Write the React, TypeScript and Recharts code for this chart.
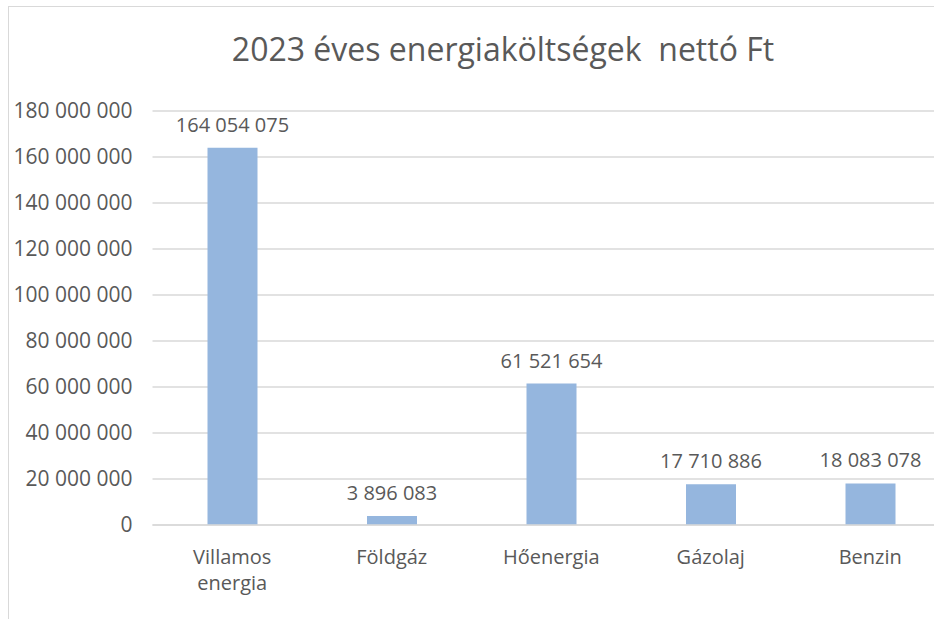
import React from "react";
import { BarChart, Bar, XAxis, YAxis, CartesianGrid, LabelList } from "recharts";

const categories = ["Villamos energia", "Földgáz", "Hőenergia", "Gázolaj", "Benzin"];
const costs = [164054075, 3896083, 61521654, 17710886, 18083078];
const yTicks = [0, 20000000, 40000000, 60000000, 80000000, 100000000, 120000000, 140000000, 160000000, 180000000];
const title = "2023 éves energiaköltségek  nettó Ft";

const data = categories.map((c, i) => ({ name: c, value: costs[i] }));

const fmt = (v: number) => String(Math.round(v)).replace(/\B(?=(\d{3})+(?!\d))/g, " ");

const FONT = "'Open Sans', sans-serif";
const TXT = "#595959";

const XTick = (props: any) => {
  const { x, y, payload } = props;
  const words = String(payload.value).split(" ");
  const lines = words.length > 1 && payload.value.length > 10 ? words : [payload.value];
  return (
    <text x={x} y={y} textAnchor="middle" fill={TXT} fontFamily={FONT} fontSize={20}>
      {lines.map((l: string, i: number) => (
        <tspan key={i} x={x} dy={i === 0 ? 31 : 26}>{l}</tspan>
      ))}
    </text>
  );
};

const ValueLabel = (props: any) => {
  const { x, y, width, value } = props;
  return (
    <text x={x + width / 2} y={y - 16} textAnchor="middle" fill={TXT} fontFamily={FONT} fontSize={20}>
      {fmt(Number(value))}
    </text>
  );
};

export default function App() {
  return (
    <div style={{ position: "absolute", left: 8, top: 6, width: 926, height: 613, overflow: "hidden", borderLeft: "1px solid #D9D9D9", borderTop: "1px solid #D9D9D9", background: "#fff" }}>
      <div style={{ position: "absolute", left: 0, width: 988, top: 24, textAlign: "center", whiteSpace: "pre", fontFamily: FONT, fontSize: 32, color: TXT, lineHeight: "36px" }}>
        {title}
      </div>
      <BarChart width={960} height={640} data={data} margin={{ top: 104, right: 19, left: 0, bottom: 0 }} barCategoryGap={55}>
        <CartesianGrid vertical={false} stroke="#D9D9D9" strokeWidth={1.5} />
        <XAxis dataKey="name" axisLine={{ stroke: "#D9D9D9", strokeWidth: 1.5 }} tickLine={false} tick={<XTick />} height={122} interval={0} />
        <YAxis domain={[0, 180000000]} ticks={yTicks} tickFormatter={fmt} axisLine={false} tickLine={false} tickSize={0} tickMargin={20} width={143.5} tick={{ fill: TXT, fontFamily: FONT, fontSize: 21 }} />
        <Bar dataKey="value" fill="#95B6DE" isAnimationActive={false}>
          <LabelList dataKey="value" content={<ValueLabel />} />
        </Bar>
      </BarChart>
    </div>
  );
}
